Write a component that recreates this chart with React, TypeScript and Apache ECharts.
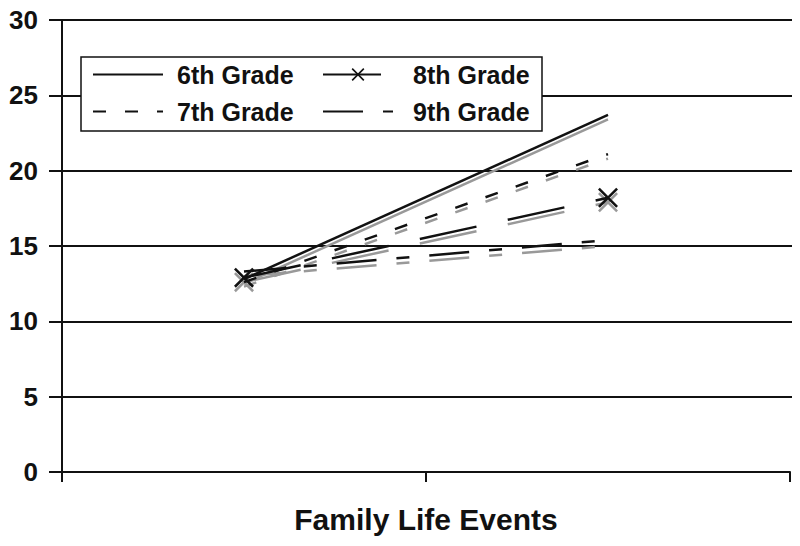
import React, { useEffect, useRef } from "react";
import * as echarts from "echarts";

const categories = ["", ""];
const gradeNames = ["6th Grade", "7th Grade", "8th Grade", "9th Grade"];
const blackValues = [
  [12.8, 23.7],
  [12.6, 21.1],
  [12.9, 18.2],
  [13.3, 15.4],
];
const grayValues = [
  [12.5, 23.4],
  [12.3, 20.8],
  [12.6, 17.9],
  [13.0, 15.0],
];
const yTicks = { min: 0, max: 30, interval: 5 };

const FONT = "'Liberation Sans', Arial, Helvetica, sans-serif";
const X_PATH = "path://M0,0.9L0.9,0L10,9.1L9.1,10Z M9.1,0L10,0.9L0.9,10L0,9.1Z";
const dashTypes: any[] = ["solid", [13, 19], [58, 32], [40, 20, 13, 20]];
const markers = ["none", "none", X_PATH, "none"];

export default function App() {
  const ref = useRef<HTMLDivElement>(null);
  useEffect(() => {
    if (!ref.current) return;
    const chart = echarts.init(ref.current, null, { renderer: "svg" });
    const mk = (vals: number[][], color: string, z: number, named: boolean) =>
      vals.map((v, i) => ({
        type: "line",
        name: named ? gradeNames[i] : gradeNames[i] + " ",
        xAxisIndex: 0,
        yAxisIndex: 0,
        data: v,
        z,
        symbol: markers[i],
        symbolSize: 20,
        showSymbol: markers[i] !== "none",
        itemStyle: { color },
        lineStyle: { color, width: 2.5, type: dashTypes[i] },
        emphasis: { disabled: true },
      }));
    const legendItem = (name: string) => {
      const i = gradeNames.indexOf(name);
      return markers[i] === "none"
        ? { name, itemStyle: { opacity: 0 } }
        : { name };
    };
    const legendCommon = (textPad: number) => ({
      orient: "vertical",
      top: 62,
      padding: 0,
      itemWidth: 70,
      itemHeight: 16,
      itemGap: 12,
      z: 6,
      selectedMode: false,
      textStyle: {
        fontFamily: FONT,
        fontWeight: "bold",
        fontSize: 25,
        color: "#111",
        padding: [0, 0, 0, textPad],
      },
    });
    chart.setOption({
      animation: false,
      backgroundColor: "#fff",
      grid: [
        { left: 62, right: 10, top: 20, bottom: 74 },
        { left: 62, right: 0, top: 20, bottom: 149 },
      ],
      xAxis: [
        {
          type: "category",
          gridIndex: 0,
          data: categories,
          boundaryGap: true,
          axisLine: { lineStyle: { color: "#111", width: 2 } },
          axisTick: { show: true, length: 10, lineStyle: { color: "#111", width: 2 } },
          axisLabel: { show: false },
          name: "Family Life Events",
          nameLocation: "middle",
          nameGap: 32,
          nameTextStyle: { fontFamily: FONT, fontWeight: "bold", fontSize: 30, color: "#111" },
        },
        { type: "value", gridIndex: 1, show: false, min: 0, max: 1 },
      ],
      yAxis: [
        {
          type: "value",
          gridIndex: 0,
          min: yTicks.min,
          max: yTicks.max,
          interval: yTicks.interval,
          axisLine: { show: true, lineStyle: { color: "#111", width: 2 } },
          axisTick: { show: true, length: 13, lineStyle: { color: "#111", width: 2 } },
          splitLine: { show: false },
          axisLabel: { fontFamily: FONT, fontWeight: "bold", fontSize: 26, color: "#111", margin: 24 },
        },
        {
          type: "value",
          gridIndex: 1,
          min: 5,
          max: yTicks.max,
          interval: yTicks.interval,
          axisLine: { show: false },
          axisTick: { show: false },
          axisLabel: { show: false },
          splitLine: { show: true, lineStyle: { color: "#111", width: 2 } },
        },
      ],
      legend: [
        { ...legendCommon(9), left: 92, data: ["6th Grade", "7th Grade"].map(legendItem) },
        { ...legendCommon(15), left: 322, data: ["8th Grade", "9th Grade"].map(legendItem) },
      ],
      graphic: [
        {
          type: "rect",
          z: 5,
          shape: { x: 81, y: 57, width: 461, height: 74 },
          style: { fill: "#fff", stroke: "#111", lineWidth: 1.5 },
        },
      ],
      series: [...mk(grayValues, "#999", 2, false), ...mk(blackValues, "#111", 3, true)],
    });
    return () => chart.dispose();
  }, []);
  return <div ref={ref} style={{ width: 800, height: 546, margin: -8 }} />;
}
